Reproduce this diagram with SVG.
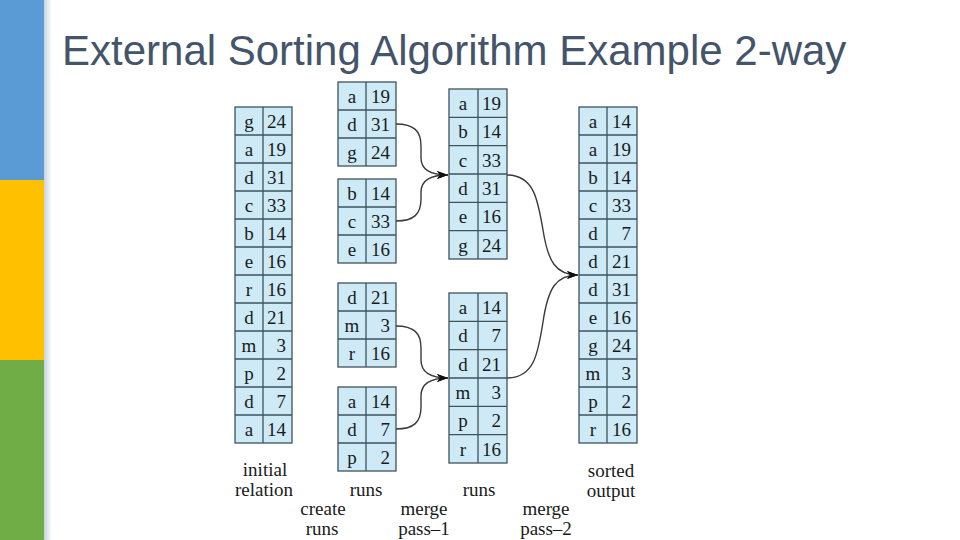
<svg xmlns="http://www.w3.org/2000/svg" width="960" height="540" viewBox="0 0 960 540">
<style>
.tbl rect{fill:#CDEAF6;stroke:#3E535C;stroke-width:1.3}
.tbl line{stroke:#3E535C;stroke-width:1.3}
.tbl text{font-family:"Liberation Serif","Times New Roman",serif;font-size:19px;fill:#1a1a1a}
.k{text-anchor:middle}
.v{text-anchor:end}
.lbl{font-family:"Liberation Serif","Times New Roman",serif;font-size:19px;fill:#1a1a1a;text-anchor:middle}
.con{fill:none;stroke:#3a3a3a;stroke-width:1.4}
</style>
<defs>
<linearGradient id="sh" x1="0" y1="0" x2="1" y2="0">
<stop offset="0" stop-color="#c9d4de"/>
<stop offset="1" stop-color="#ffffff"/>
</linearGradient>
<marker id="arr" markerUnits="userSpaceOnUse" markerWidth="12" markerHeight="10" refX="11" refY="4" orient="auto">
<path d="M0,0 L11,4 L0,8 L3,4 z" fill="#111"/>
</marker>
</defs>
<rect width="960" height="540" fill="#ffffff"/>
<g id="sidebar">
<rect x="44" y="0" width="8" height="540" fill="url(#sh)"/>
<rect x="0" y="0" width="44" height="180" fill="#5B9BD5"/>
<rect x="0" y="180" width="44" height="180" fill="#FFC000"/>
<rect x="0" y="360" width="44" height="180" fill="#70AD47"/>
</g>
<text id="title" x="62" y="65" font-family="Liberation Sans, Arial, sans-serif" font-size="42" fill="#44546A">External Sorting Algorithm Example 2-way</text>

<g id="initial-relation" class="tbl">
<rect x="235" y="107" width="57" height="336"/>
<line x1="263" y1="107" x2="263" y2="443"/>
<line x1="235" y1="135" x2="292" y2="135"/><line x1="235" y1="163" x2="292" y2="163"/><line x1="235" y1="191" x2="292" y2="191"/><line x1="235" y1="219" x2="292" y2="219"/><line x1="235" y1="247" x2="292" y2="247"/><line x1="235" y1="275" x2="292" y2="275"/><line x1="235" y1="303" x2="292" y2="303"/><line x1="235" y1="331" x2="292" y2="331"/><line x1="235" y1="359" x2="292" y2="359"/><line x1="235" y1="387" x2="292" y2="387"/><line x1="235" y1="415" x2="292" y2="415"/>
<text class="k" x="249" y="128">g</text><text class="v" x="286" y="128">24</text>
<text class="k" x="249" y="156">a</text><text class="v" x="286" y="156">19</text>
<text class="k" x="249" y="184">d</text><text class="v" x="286" y="184">31</text>
<text class="k" x="249" y="212">c</text><text class="v" x="286" y="212">33</text>
<text class="k" x="249" y="240">b</text><text class="v" x="286" y="240">14</text>
<text class="k" x="249" y="268">e</text><text class="v" x="286" y="268">16</text>
<text class="k" x="249" y="296">r</text><text class="v" x="286" y="296">16</text>
<text class="k" x="249" y="324">d</text><text class="v" x="286" y="324">21</text>
<text class="k" x="249" y="352">m</text><text class="v" x="286" y="352">3</text>
<text class="k" x="249" y="380">p</text><text class="v" x="286" y="380">2</text>
<text class="k" x="249" y="408">d</text><text class="v" x="286" y="408">7</text>
<text class="k" x="249" y="436">a</text><text class="v" x="286" y="436">14</text>
</g>

<g id="run-1" class="tbl">
<rect x="338" y="82" width="58" height="84"/>
<line x1="366" y1="82" x2="366" y2="166"/>
<line x1="338" y1="110" x2="396" y2="110"/><line x1="338" y1="138" x2="396" y2="138"/>
<text class="k" x="352" y="103">a</text><text class="v" x="390" y="103">19</text>
<text class="k" x="352" y="131">d</text><text class="v" x="390" y="131">31</text>
<text class="k" x="352" y="159">g</text><text class="v" x="390" y="159">24</text>
</g>
<g id="run-2" class="tbl">
<rect x="338" y="179" width="58" height="84"/>
<line x1="366" y1="179" x2="366" y2="263"/>
<line x1="338" y1="207" x2="396" y2="207"/><line x1="338" y1="235" x2="396" y2="235"/>
<text class="k" x="352" y="200">b</text><text class="v" x="390" y="200">14</text>
<text class="k" x="352" y="228">c</text><text class="v" x="390" y="228">33</text>
<text class="k" x="352" y="256">e</text><text class="v" x="390" y="256">16</text>
</g>
<g id="run-3" class="tbl">
<rect x="338" y="283" width="58" height="84"/>
<line x1="366" y1="283" x2="366" y2="367"/>
<line x1="338" y1="311" x2="396" y2="311"/><line x1="338" y1="339" x2="396" y2="339"/>
<text class="k" x="352" y="304">d</text><text class="v" x="390" y="304">21</text>
<text class="k" x="352" y="332">m</text><text class="v" x="390" y="332">3</text>
<text class="k" x="352" y="360">r</text><text class="v" x="390" y="360">16</text>
</g>
<g id="run-4" class="tbl">
<rect x="338" y="387" width="58" height="84"/>
<line x1="366" y1="387" x2="366" y2="471"/>
<line x1="338" y1="415" x2="396" y2="415"/><line x1="338" y1="443" x2="396" y2="443"/>
<text class="k" x="352" y="408">a</text><text class="v" x="390" y="408">14</text>
<text class="k" x="352" y="436">d</text><text class="v" x="390" y="436">7</text>
<text class="k" x="352" y="464">p</text><text class="v" x="390" y="464">2</text>
</g>

<g id="merged-run-1" class="tbl">
<rect x="449" y="89" width="58" height="170"/>
<line x1="478" y1="89" x2="478" y2="259"/>
<line x1="449" y1="117.3" x2="507" y2="117.3"/><line x1="449" y1="145.7" x2="507" y2="145.7"/><line x1="449" y1="174" x2="507" y2="174"/><line x1="449" y1="202.3" x2="507" y2="202.3"/><line x1="449" y1="230.7" x2="507" y2="230.7"/>
<text class="k" x="463" y="110">a</text><text class="v" x="501" y="110">19</text>
<text class="k" x="463" y="138.3">b</text><text class="v" x="501" y="138.3">14</text>
<text class="k" x="463" y="166.7">c</text><text class="v" x="501" y="166.7">33</text>
<text class="k" x="463" y="195">d</text><text class="v" x="501" y="195">31</text>
<text class="k" x="463" y="223.3">e</text><text class="v" x="501" y="223.3">16</text>
<text class="k" x="463" y="251.7">g</text><text class="v" x="501" y="251.7">24</text>
</g>
<g id="merged-run-2" class="tbl">
<rect x="449" y="293" width="58" height="170"/>
<line x1="478" y1="293" x2="478" y2="463"/>
<line x1="449" y1="321.3" x2="507" y2="321.3"/><line x1="449" y1="349.7" x2="507" y2="349.7"/><line x1="449" y1="378" x2="507" y2="378"/><line x1="449" y1="406.3" x2="507" y2="406.3"/><line x1="449" y1="434.7" x2="507" y2="434.7"/>
<text class="k" x="463" y="314">a</text><text class="v" x="501" y="314">14</text>
<text class="k" x="463" y="342.3">d</text><text class="v" x="501" y="342.3">7</text>
<text class="k" x="463" y="370.7">d</text><text class="v" x="501" y="370.7">21</text>
<text class="k" x="463" y="399">m</text><text class="v" x="501" y="399">3</text>
<text class="k" x="463" y="427.3">p</text><text class="v" x="501" y="427.3">2</text>
<text class="k" x="463" y="455.7">r</text><text class="v" x="501" y="455.7">16</text>
</g>

<g id="sorted-output" class="tbl">
<rect x="579" y="107" width="58" height="336"/>
<line x1="607" y1="107" x2="607" y2="443"/>
<line x1="579" y1="135" x2="637" y2="135"/><line x1="579" y1="163" x2="637" y2="163"/><line x1="579" y1="191" x2="637" y2="191"/><line x1="579" y1="219" x2="637" y2="219"/><line x1="579" y1="247" x2="637" y2="247"/><line x1="579" y1="275" x2="637" y2="275"/><line x1="579" y1="303" x2="637" y2="303"/><line x1="579" y1="331" x2="637" y2="331"/><line x1="579" y1="359" x2="637" y2="359"/><line x1="579" y1="387" x2="637" y2="387"/><line x1="579" y1="415" x2="637" y2="415"/>
<text class="k" x="593" y="128">a</text><text class="v" x="631" y="128">14</text>
<text class="k" x="593" y="156">a</text><text class="v" x="631" y="156">19</text>
<text class="k" x="593" y="184">b</text><text class="v" x="631" y="184">14</text>
<text class="k" x="593" y="212">c</text><text class="v" x="631" y="212">33</text>
<text class="k" x="593" y="240">d</text><text class="v" x="631" y="240">7</text>
<text class="k" x="593" y="268">d</text><text class="v" x="631" y="268">21</text>
<text class="k" x="593" y="296">d</text><text class="v" x="631" y="296">31</text>
<text class="k" x="593" y="324">e</text><text class="v" x="631" y="324">16</text>
<text class="k" x="593" y="352">g</text><text class="v" x="631" y="352">24</text>
<text class="k" x="593" y="380">m</text><text class="v" x="631" y="380">3</text>
<text class="k" x="593" y="408">p</text><text class="v" x="631" y="408">2</text>
<text class="k" x="593" y="436">r</text><text class="v" x="631" y="436">16</text>
</g>

<g id="connectors">
<path class="con" marker-end="url(#arr)" d="M396,124 C414,124 421,131 421,146 L421,158 C421,170 430,175 448,175"/>
<path class="con" marker-end="url(#arr)" d="M396,221 C414,221 421,214 421,199 L421,192 C421,180 430,175 448,175"/>
<path class="con" marker-end="url(#arr)" d="M396,326 C414,326 421,333 421,348 L421,360 C421,372 430,378 448,378"/>
<path class="con" marker-end="url(#arr)" d="M396,429 C414,429 421,422 421,407 L421,396 C421,384 430,378 448,378"/>
<path class="con" marker-end="url(#arr)" d="M507,175 C534,175 538,200 543,230 C548,262 556,275 578,275"/>
<path class="con" marker-end="url(#arr)" d="M507,378 C534,378 538,354 543,322 C548,288 556,275 578,275"/>
</g>

<g id="labels">
<text class="lbl" x="265" y="476">initial</text>
<text class="lbl" x="264" y="496">relation</text>
<text class="lbl" x="366" y="496">runs</text>
<text class="lbl" x="323" y="515">create</text>
<text class="lbl" x="322" y="535">runs</text>
<text class="lbl" x="424" y="515">merge</text>
<text class="lbl" x="424" y="535">pass–1</text>
<text class="lbl" x="479" y="496">runs</text>
<text class="lbl" x="546" y="515">merge</text>
<text class="lbl" x="546" y="535">pass–2</text>
<text class="lbl" x="611" y="477">sorted</text>
<text class="lbl" x="611" y="497">output</text>
</g>
</svg>
